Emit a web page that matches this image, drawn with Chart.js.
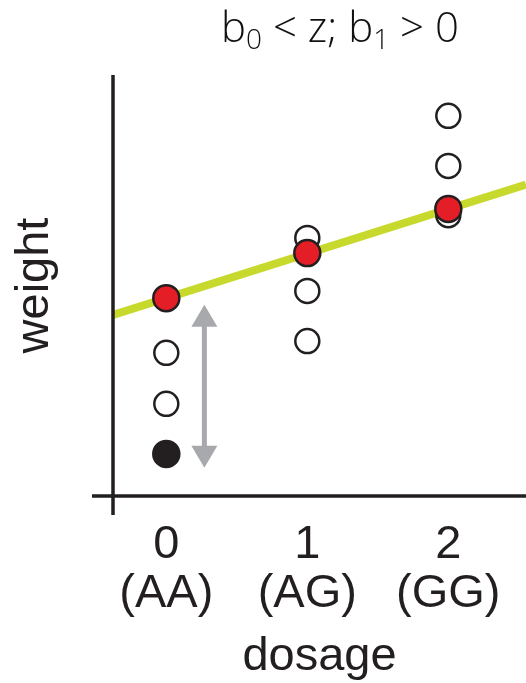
<!DOCTYPE html>
<html>
<head>
<meta charset="utf-8">
<script src="https://cdn.jsdelivr.net/npm/chart.js@4"></script>
<style>
  html, body { margin: 0; padding: 0; background: #fff; overflow: hidden; }
  canvas { display: block; }
</style>
</head>
<body>
<canvas id="chart" width="526" height="683"></canvas>
<script>
'use strict';

// ── Data ──────────────────────────────────────
const DOSAGE    = [0, 1, 2];
const GENOTYPES = ['(AA)', '(AG)', '(GG)'];

const OPEN_X   = [0, 0, 1, 1, 1, 2, 2, 2];
const OPEN_Y   = [3.40, 2.19, 6.13, 4.87, 3.68, 9.03, 7.84, 6.67];
const FILLED_X = [0];
const FILLED_Y = [1.00];
const MEAN_X   = [0, 1, 2];
const MEAN_Y   = [4.70, 5.77, 6.82];
const FIT_X    = [-0.378, 2.551];
const FIT_Y    = [4.30, 7.40];
const ARROW_X  = [0.27, 0.27];
const ARROW_Y  = [0.67, 4.54];

const X_MIN = -0.378, X_MAX = 2.551;
const Y_MIN = 0,      Y_MAX = 10;

const INK   = '#231f20';
const LABEL_FONT = '"Liberation Sans", Arial, Helvetica, sans-serif';
const TITLE_FONT = '"Open Sans", "DejaVu Sans", sans-serif';

const pts = (xs, ys) => xs.map((x, i) => ({ x, y: ys[i] }));

// ── Axes, arrow and title drawn on the canvas ──
const decor = {
  id: 'decor',
  beforeDatasetsDraw(chart) {
    const { ctx, scales: { x, y } } = chart;
    const ax  = x.getPixelForValue(ARROW_X[0]);
    const bot = y.getPixelForValue(ARROW_Y[0]);
    const top = y.getPixelForValue(ARROW_Y[1]);
    const hh = 22, hw = 13;
    ctx.save();
    ctx.strokeStyle = ctx.fillStyle = '#a7a9ac';
    ctx.lineWidth = 5;
    ctx.beginPath();
    ctx.moveTo(ax, top + hh - 2);
    ctx.lineTo(ax, bot - hh + 2);
    ctx.stroke();
    ctx.beginPath();
    ctx.moveTo(ax, top); ctx.lineTo(ax + hw, top + hh); ctx.lineTo(ax - hw, top + hh);
    ctx.closePath(); ctx.fill();
    ctx.beginPath();
    ctx.moveTo(ax, bot); ctx.lineTo(ax + hw, bot - hh); ctx.lineTo(ax - hw, bot - hh);
    ctx.closePath(); ctx.fill();
    ctx.restore();
  },
  afterDraw(chart) {
    const { ctx, chartArea: a } = chart;
    ctx.save();
    // axis lines, crossing a little past each other
    ctx.strokeStyle = INK;
    ctx.lineWidth = 3.5;
    ctx.beginPath();
    ctx.moveTo(a.left, a.top);
    ctx.lineTo(a.left, a.bottom + 19);
    ctx.moveTo(a.left - 21, a.bottom);
    ctx.lineTo(a.right, a.bottom);
    ctx.stroke();

    // title with subscripts: b0 < z; b1 > 0
    const parts = [
      ['b', 42, 0], ['0', 28, 7], [' < z; b', 42, 0], ['1', 28, 7], [' > 0', 42, 0]
    ];
    let w = 0;
    parts.forEach(p => { ctx.font = `300 ${p[1]}px ${TITLE_FONT}`; w += ctx.measureText(p[0]).width; });
    let cx = 340 - w / 2;
    ctx.fillStyle = '#111';
    ctx.textBaseline = 'alphabetic';
    ctx.textAlign = 'left';
    parts.forEach(p => {
      ctx.font = `300 ${p[1]}px ${TITLE_FONT}`;
      ctx.fillText(p[0], cx, 42 + p[2]);
      cx += ctx.measureText(p[0]).width;
    });
    ctx.restore();
  }
};

const circle = (data, fill, r, order) => ({
  data,
  showLine: false,
  pointRadius: r,
  pointHoverRadius: r,
  pointBackgroundColor: fill,
  pointBorderColor: INK,
  pointBorderWidth: 2.5,
  order
});

new Chart(document.getElementById('chart'), {
  type: 'scatter',
  data: {
    datasets: [
      circle(pts(MEAN_X, MEAN_Y), '#e31e26', 13, 0),
      circle(pts(FILLED_X, FILLED_Y), INK, 13, 1),
      circle(pts(OPEN_X, OPEN_Y), '#ffffff', 12, 2),
      {
        data: pts(FIT_X, FIT_Y),
        showLine: true,
        borderColor: '#c8d92e',
        borderWidth: 8,
        pointRadius: 0,
        order: 3
      }
    ]
  },
  options: {
    responsive: false,
    animation: false,
    events: [],
    // no auto padding for point overflow: the plot runs to the right edge
    layout: { autoPadding: false, padding: { top: 75, right: 0, bottom: 0, left: 0 } },
    plugins: { legend: { display: false }, tooltip: { enabled: false } },
    scales: {
      x: {
        type: 'linear',
        min: X_MIN, max: X_MAX,
        // invisible tick marks push the labels down instead of tick padding
        grid: { display: true, drawOnChartArea: false, drawTicks: true, tickLength: 25, color: 'rgba(0,0,0,0)' },
        border: { display: false },
        afterBuildTicks: s => { s.ticks = DOSAGE.map(v => ({ value: v })); },
        afterFit: s => { s.height = 187; s.paddingLeft = 0; s.paddingRight = 0; },
        ticks: {
          padding: 0,
          color: INK,
          font: { family: LABEL_FONT, size: 47, lineHeight: 1.03 },
          callback: v => [String(v), GENOTYPES[DOSAGE.indexOf(v)]]
        },
        title: {
          display: true,
          text: 'dosage',
          color: INK,
          font: { family: LABEL_FONT, size: 47, lineHeight: 1.03 },
          padding: { top: 0, bottom: 2 }
        }
      },
      y: {
        type: 'linear',
        min: Y_MIN, max: Y_MAX,
        grid: { display: false, drawTicks: false },
        border: { display: false },
        ticks: { display: false },
        afterFit: s => { s.width = 113; },
        title: {
          display: true,
          text: 'weight',
          color: INK,
          font: { family: LABEL_FONT, size: 47, lineHeight: 1.03 },
          padding: { top: 11, bottom: 0 }
        }
      }
    }
  },
  plugins: [decor]
});
</script>
</body>
</html>
